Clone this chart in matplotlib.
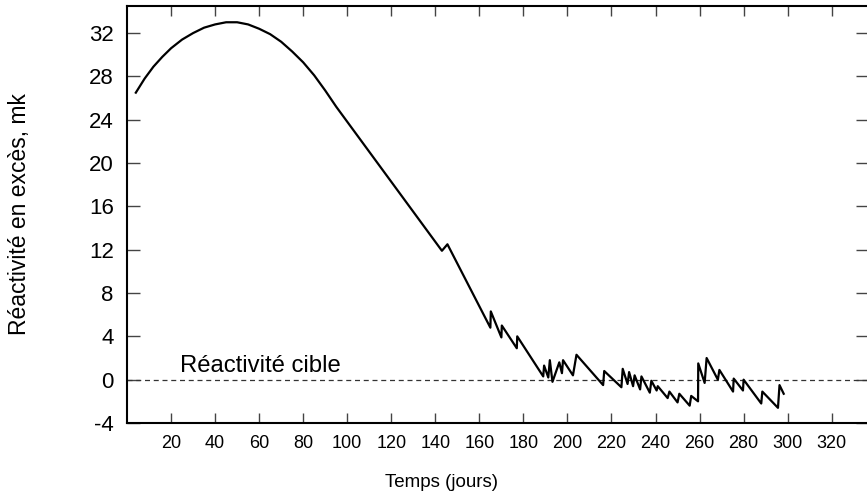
import matplotlib
matplotlib.use("Agg")
import matplotlib.pyplot as plt

# jours / réactivité (mk)
jours = [4, 8, 12, 16, 20, 25, 30, 35, 40, 45, 50, 55, 60, 65, 70, 75, 80, 85, 90, 95,
         143.0, 145.5, 165.0, 165.2, 170.0, 170.2, 177.0, 177.2, 189.0, 189.4,
         191.3, 192.0, 193.2, 196.3, 197.5, 198.0, 202.5, 204.1,
         216.2, 216.7, 224.5, 225.1, 227.3, 228.0, 229.8, 230.5, 233.0, 233.6,
         237.4, 238.1, 240.5, 241.0, 245.5, 246.3, 250.0, 250.8, 255.5, 256.2,
         259.3, 259.4, 262.3, 263.2, 268.3, 269.0, 275.2, 275.5, 279.7, 280.0,
         288.0, 288.5, 295.6, 296.3, 298.2]
reactivite = [26.5, 27.8, 28.9, 29.8, 30.6, 31.4, 32.0, 32.5, 32.8, 33.0, 33.0, 32.8, 32.4,
              31.9, 31.2, 30.3, 29.3, 28.1, 26.7, 25.2,
              11.9, 12.5, 4.8, 6.3, 3.9, 5.0, 2.9, 4.0, 0.3, 1.3,
              0.2, 1.8, -0.2, 1.6, 0.6, 1.8, 0.4, 2.3,
              -0.5, 0.8, -0.7, 1.0, -0.4, 0.7, -0.6, 0.4, -0.9, 0.3,
              -1.2, -0.1, -1.0, -0.6, -1.7, -1.1, -2.1, -1.3, -2.4, -1.5,
              -2.0, 1.5, -0.3, 2.0, 0.0, 0.9, -1.1, 0.1, -1.0, 0.0,
              -2.2, -1.1, -2.6, -0.5, -1.3]

xticks = list(range(20, 321, 20))
yticks = list(range(-4, 33, 4))

plt.rcParams['font.family'] = ['Liberation Sans', 'DejaVu Sans']
plt.rcParams['axes.unicode_minus'] = False

fig = plt.figure(figsize=(8.67, 5.01), dpi=100)
ax = fig.add_axes([0.1465, 0.1557, 0.8547, 0.8323])

ax.axhline(0, color='#333333', lw=0.9, ls=(0, (4, 3)))
ax.plot(jours, reactivite, color='black', lw=1.6)
ax.text(24, 0.7, 'Réactivité cible', fontsize=17.2, va='baseline', ha='left')

ax.set_xlim(0, 336.5)
ax.set_ylim(-4, 34.5)
ax.set_xticks(xticks)
ax.set_yticks(yticks)
ax.tick_params(axis='both', direction='in', color='#444444', width=1.0)
ax.tick_params(axis='x', length=7.5, pad=9, top=True, labelsize=13)
ax.tick_params(axis='y', length=9, pad=9.5, right=True, labelsize=16)
for s in ax.spines.values():
    s.set_linewidth(1.5)

fig.text(442 / 867, 0.036, 'Temps (jours)', fontsize=13.5, ha='center', va='center')
fig.text(20 / 867, 0.572, 'Réactivité en excès, mk', fontsize=16.5, ha='center',
         va='center', rotation=90)

fig.savefig('out.png', dpi=100)
